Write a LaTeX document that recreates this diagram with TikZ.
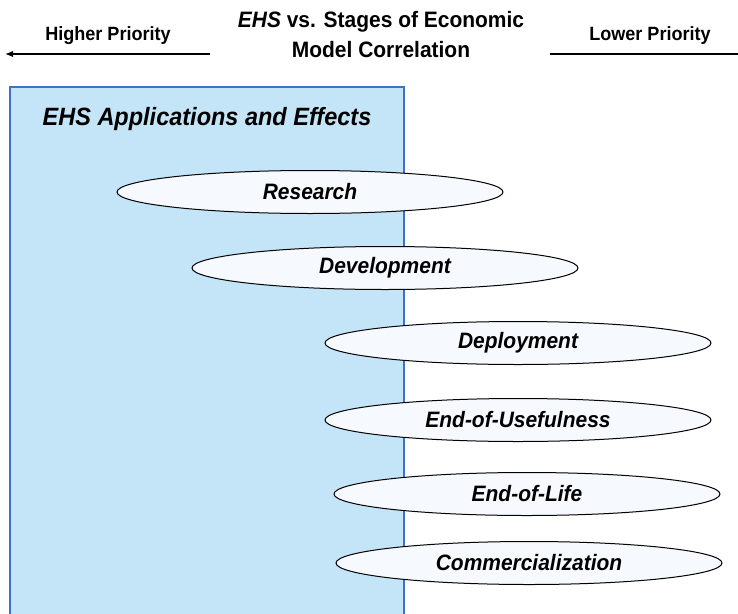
\documentclass[tikz,border=0pt]{standalone}
\usepackage{fontspec}
\setmainfont[FakeStretch=0.94]{Liberation Sans}
\usetikzlibrary{shapes.geometric,arrows.meta}
\definecolor{boxfill}{HTML}{C4E4F7}
\definecolor{boxline}{HTML}{3F72C6}
\definecolor{ellfill}{HTML}{F6FAFE}
\tikzset{
  stage/.style={ellipse, draw=black, line width=1pt, fill=ellfill, minimum width=386pt, minimum height=43pt, inner sep=0pt, font=\fontsize{22.3}{25}\selectfont\bfseries\itshape},
  prio/.style={font=\fontsize{19.2}{22}\selectfont\bfseries, inner sep=0pt},
}
\begin{document}
\begin{tikzpicture}[x=1pt,y=-1pt]
\useasboundingbox (0,0) rectangle (738,613);
% blue box
\fill[boxfill] (10,87) rectangle (404,615);
\draw[boxline, line width=1.2pt] (10,615) -- (10,87) -- (404,87) -- (404,615);
\node[font=\fontsize{25}{28}\selectfont\bfseries\itshape, inner sep=0pt] (boxtitle) at (207,119) {EHS Applications and Effects};
% header
\node[font=\fontsize{22.3}{30}\selectfont\bfseries, align=center, inner sep=0pt] (title) at (381,35) {\textit{EHS} vs. Stages of Economic\\Model Correlation};
\node[prio] (hp) at (108,36) {Higher Priority};
\node[prio] (lp) at (650,36) {Lower Priority};
\coordinate (la) at (210,54);
\coordinate (lb) at (5,54);
\coordinate (ra) at (550,54);
\coordinate (rb) at (738,54);
\draw[line width=1.5pt, -{Latex[length=8pt,width=6.5pt]}] (la) -- (lb);
\draw[line width=1.5pt] (ra) -- (rb);
% stages
\node[stage] (research) at (310,192) {Research};
\node[stage] (development) at (385,268) {Development};
\node[stage] (deployment) at (518,343) {Deployment};
\node[stage] (eou) at (518,420) {End-of-Usefulness};
\node[stage] (eol) at (527,494) {End-of-Life};
\node[stage] (comm) at (529,563) {Commercialization};
\end{tikzpicture}
\end{document}
